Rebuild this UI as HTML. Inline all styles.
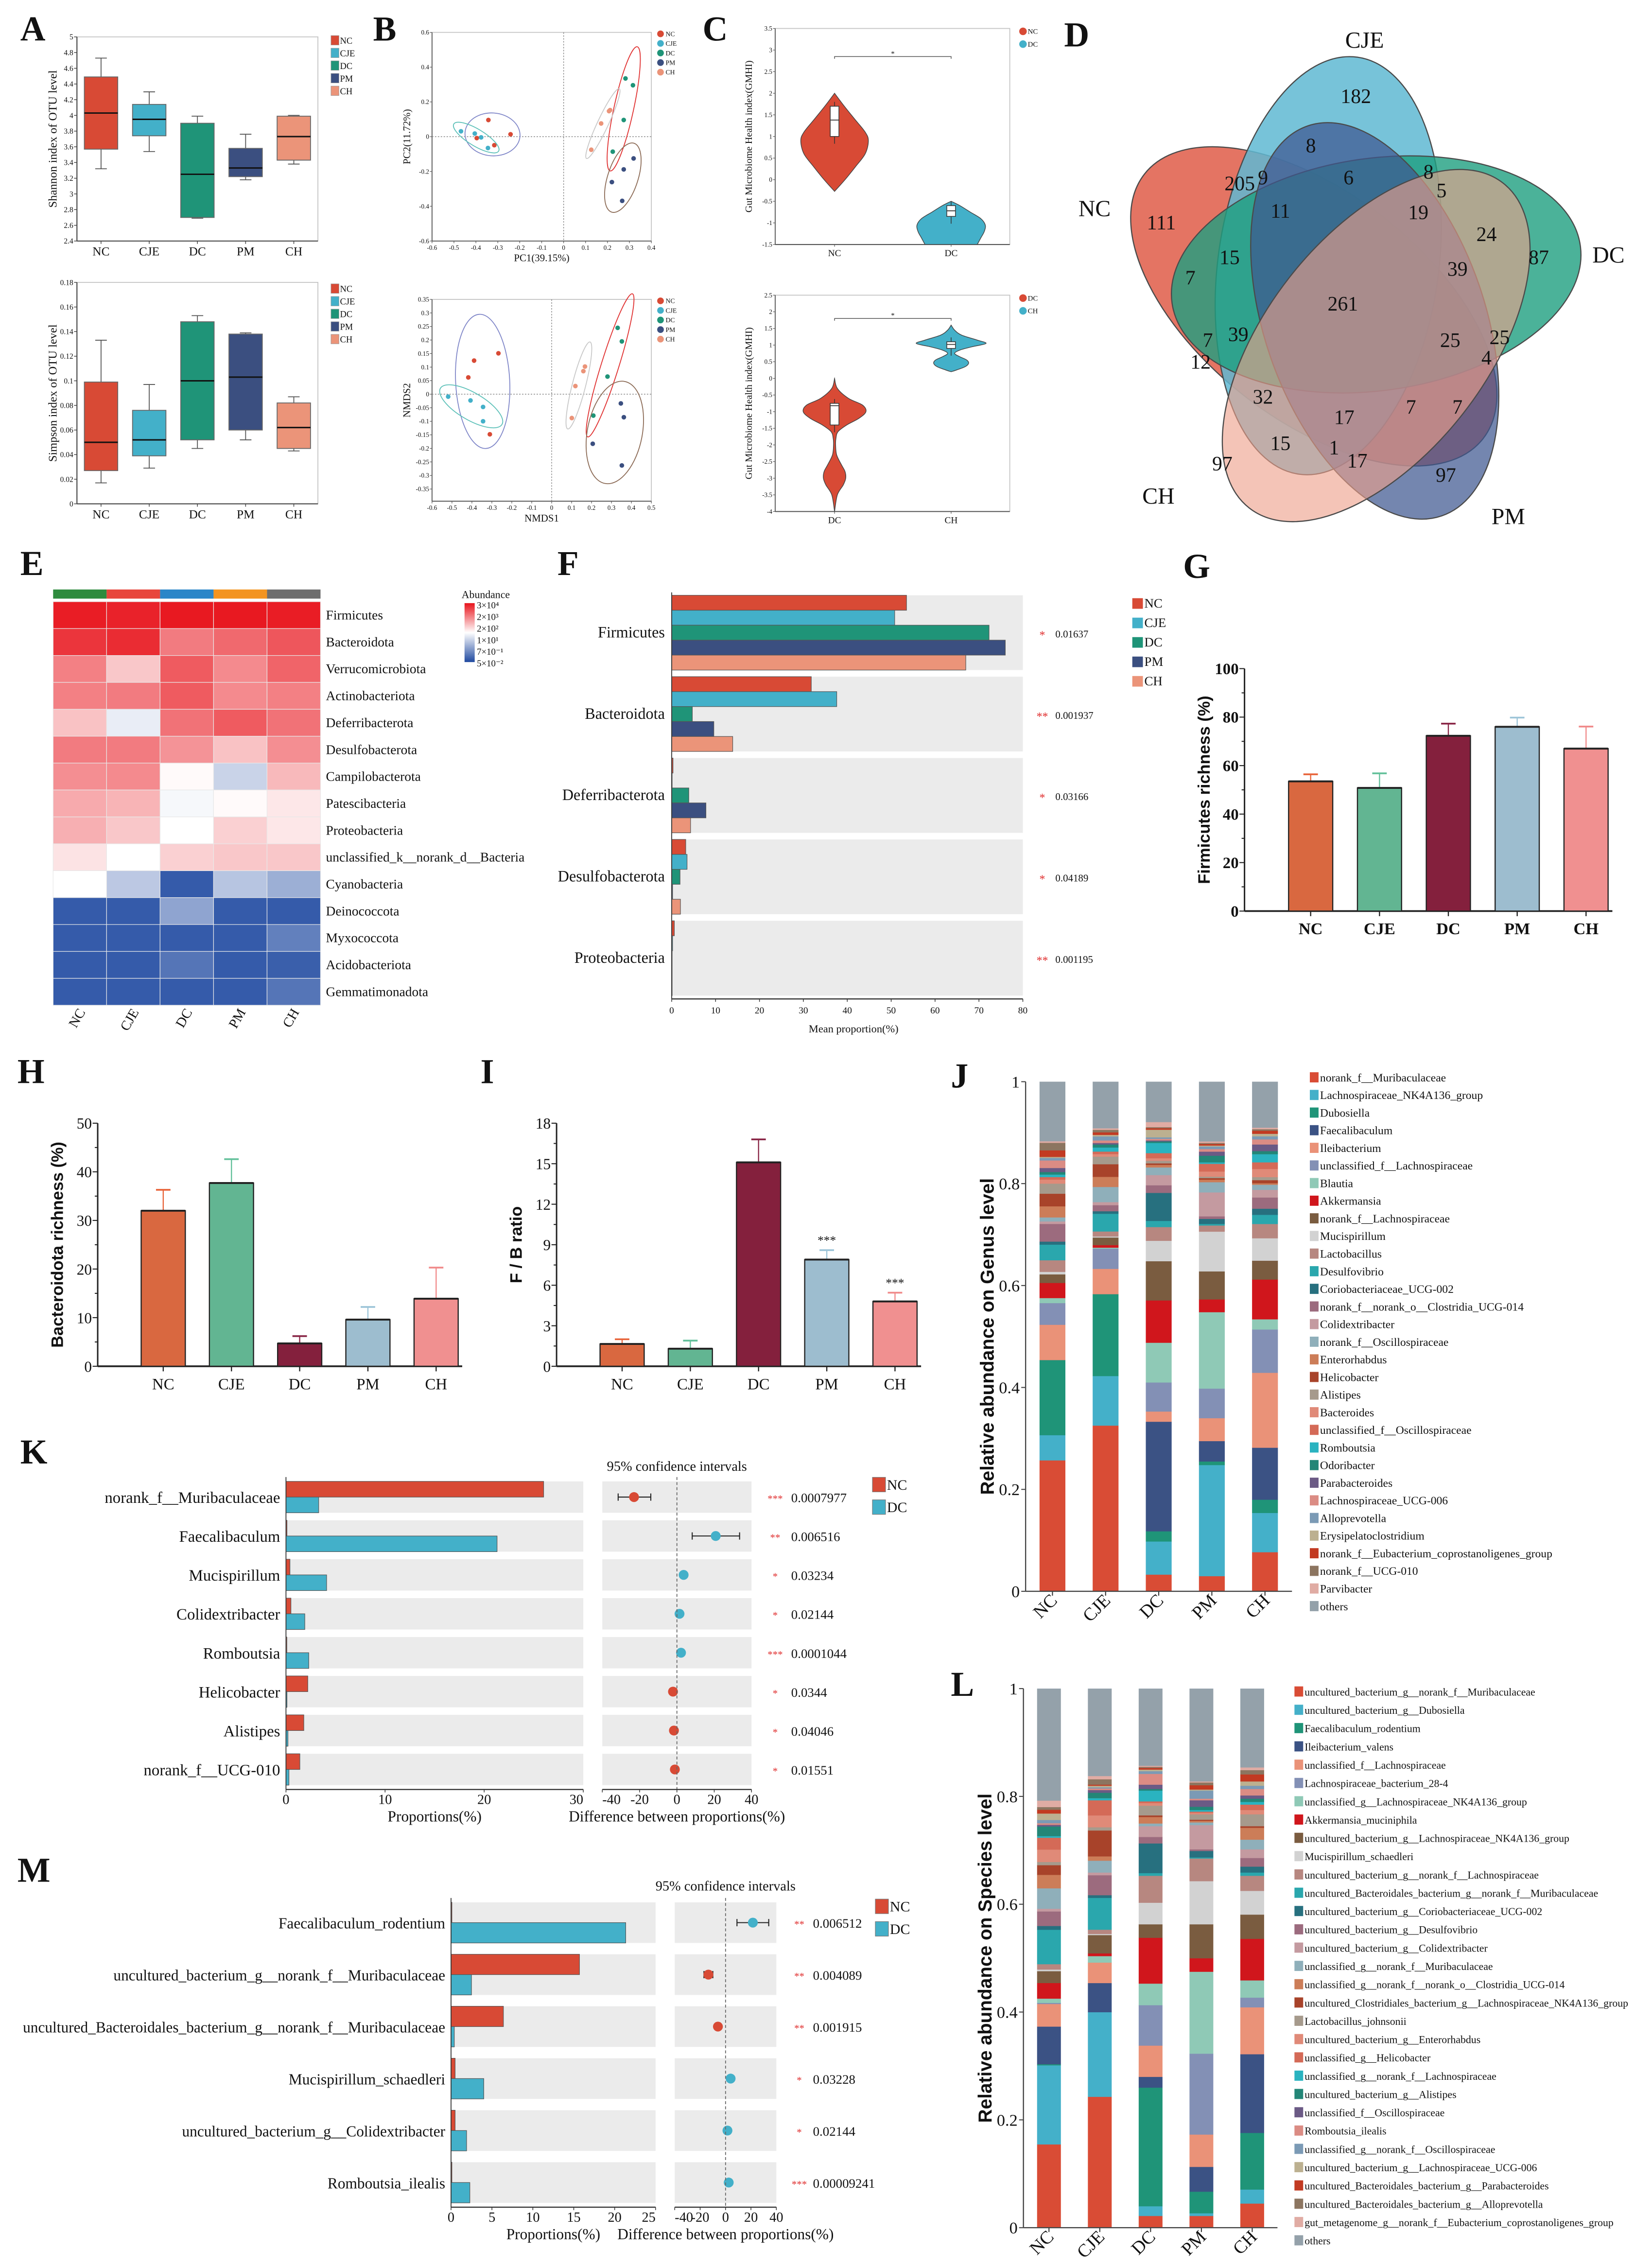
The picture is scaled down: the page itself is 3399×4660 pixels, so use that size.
<!DOCTYPE html>
<html><head><meta charset="utf-8">
<style>html,body{margin:0;padding:0;background:#fff}svg{display:block}</style>
</head><body>
<svg id="fig" xmlns="http://www.w3.org/2000/svg" width="3399" height="4660" viewBox="0 0 1138 1560" preserveAspectRatio="none" font-family='"Liberation Serif", serif'>
<defs><clipPath id="mclip"><rect x="0" y="1290" width="627" height="80"/></clipPath>
<linearGradient id="heatgrad" x1="0" y1="0" x2="0" y2="1"><stop offset="0" stop-color="#e8141c"/><stop offset="0.5" stop-color="#ffffff"/><stop offset="1" stop-color="#1f49a0"/></linearGradient></defs>
</svg>
<script>
// ---------- DATA ----------
const groups=['NC','CJE','DC','PM','CH'];
const groupColors=['#d84a35','#43b0c9','#1f9478','#3b4f80','#eb9479'];
// A
const shannonMin=[3.32,3.54,2.69,3.18,3.38];
const shannonQ1=[3.57,3.74,2.70,3.22,3.43];
const shannonMed=[4.03,3.95,3.25,3.33,3.73];
const shannonQ3=[4.49,4.14,3.90,3.58,3.99];
const shannonMax=[4.73,4.30,3.99,3.76,4.00];
const simpsonMin=[0.017,0.029,0.045,0.052,0.043];
const simpsonQ1=[0.027,0.039,0.052,0.060,0.045];
const simpsonMed=[0.050,0.052,0.100,0.103,0.062];
const simpsonQ3=[0.099,0.076,0.148,0.138,0.082];
const simpsonMax=[0.133,0.097,0.153,0.139,0.087];
// B
const pcaX=[[-0.343,-0.242,-0.396,-0.316],[-0.468,-0.405,-0.376,-0.345],[0.282,0.316,0.274,0.224],[0.319,0.274,0.220,0.267],[0.212,0.207,0.171,0.126]];
const pcaY=[[0.096,0.014,-0.008,-0.049],[0.031,0.018,-0.004,-0.065],[0.335,0.296,0.096,-0.086],[-0.125,-0.188,-0.261,-0.369],[0.153,0.147,0.076,-0.075]];
const nmdsX=[[-0.267,-0.389,-0.418,-0.310],[-0.519,-0.407,-0.344,-0.344],[0.331,0.352,0.280,0.209],[0.347,0.362,0.206,0.352],[0.167,0.159,0.119,0.101]];
const nmdsY=[[0.151,0.124,0.062,-0.148],[-0.009,-0.023,-0.047,-0.100],[0.245,0.195,0.065,-0.079],[-0.034,-0.085,-0.183,-0.263],[0.102,0.085,0.030,-0.088]];
// C violins
const vNCy=[2.0,1.7,1.4,1.1,0.9,0.6,0.3,0.0,-0.27];
const vNCd=[0,0.28,0.58,0.88,0.97,0.88,0.6,0.3,0];
const vDC1y=[-0.5,-0.6,-0.75,-0.9,-1.05,-1.2,-1.35,-1.5];
const vDC1d=[0,0.25,0.55,0.85,0.98,0.95,0.85,0.75];
const vDC2y=[0,-0.3,-0.6,-0.8,-1.0,-1.2,-1.4,-1.6,-1.8,-2.0,-2.3,-2.6,-2.8,-3.0,-3.2,-3.5,-4.0];
const vDC2d=[0,0.08,0.4,0.8,0.9,0.7,0.35,0.1,0.04,0.03,0.06,0.2,0.3,0.32,0.25,0.08,0];
const vCHy=[1.6,1.45,1.3,1.15,1.05,0.95,0.85,0.75,0.65,0.55,0.45,0.35,0.25,0.2];
const vCHd=[0,0.1,0.3,0.75,1.0,0.6,0.25,0.1,0.25,0.45,0.5,0.4,0.15,0];
const gmhiBoxTop=[[1.0,1.38,1.7],[-0.85,-0.72,-0.6]];
const gmhiBoxBot=[[-1.4,-0.82,-0.75],[0.9,1.02,1.1]];
// D
const vennSets=['NC','CJE','DC','PM','CH'];
const vennCounts=[182,8,205,9,6,8,5,111,11,19,24,87,15,7,39,261,7,39,25,25,12,4,32,7,7,17,15,1,17,97,97];
// E
const phyla=['Firmicutes','Bacteroidota','Verrucomicrobiota','Actinobacteriota','Deferribacterota','Desulfobacterota','Campilobacterota','Patescibacteria','Proteobacteria','unclassified_k__norank_d__Bacteria','Cyanobacteria','Deinococcota','Myxococcota','Acidobacteriota','Gemmatimonadota'];
const heatValues=[[0.98,0.97,0.99,0.99,0.98],[0.93,0.95,0.78,0.82,0.86],[0.77,0.62,0.85,0.75,0.83],[0.77,0.78,0.85,0.75,0.77],[0.63,0.45,0.80,0.85,0.80],[0.78,0.78,0.73,0.63,0.74],[0.74,0.75,0.51,0.38,0.65],[0.68,0.66,0.48,0.51,0.55],[0.67,0.62,0.50,0.60,0.55],[0.56,0.50,0.60,0.62,0.62],[0.50,0.35,0.05,0.34,0.28],[0.05,0.05,0.25,0.05,0.05],[0.05,0.05,0.05,0.05,0.15],[0.05,0.05,0.12,0.05,0.06],[0.05,0.05,0.05,0.05,0.12]];
const heatLegendLabels=['3×10⁴','2×10³','2×10²','1×10¹','7×10⁻¹','5×10⁻²'];
// F
const fPhyla=['Firmicutes','Bacteroidota','Deferribacterota','Desulfobacterota','Proteobacteria'];
const fNC=[53.5,31.8,0.3,3.2,0.6];
const fCJE=[50.8,37.6,0.1,3.5,0.2];
const fDC=[72.3,4.7,3.9,1.9,0.1];
const fPM=[76.0,9.6,7.8,0.2,0.1];
const fCH=[67.0,13.9,4.3,2.0,0.1];
const fP=['0.01637','0.001937','0.03166','0.04189','0.001195'];
const fStars=['*','**','*','*','**'];
// G H I
const barColors=['#d96840','#62b592','#84203d','#9dbdcf','#f09090'];
const errColors=['#e8643a','#62c09a','#8a2848','#9cc4d8','#f08a8a'];
const firmMean=[53.5,50.8,72.3,76.0,67.0];
const firmErr=[2.9,6.0,5.0,3.8,9.1];
const bactMean=[32.0,37.7,4.7,9.6,13.9];
const bactErr=[4.3,4.9,1.5,2.6,6.4];
const fbMean=[1.65,1.3,15.1,7.9,4.8];
const fbErr=[0.35,0.6,1.7,0.7,0.65];
const fbSig=['','','','***','***'];
// J
const genusNames=['norank_f__Muribaculaceae','Lachnospiraceae_NK4A136_group','Dubosiella','Faecalibaculum','Ileibacterium','unclassified_f__Lachnospiraceae','Blautia','Akkermansia','norank_f__Lachnospiraceae','Mucispirillum','Lactobacillus','Desulfovibrio','Coriobacteriaceae_UCG-002','norank_f__norank_o__Clostridia_UCG-014','Colidextribacter','norank_f__Oscillospiraceae','Enterorhabdus','Helicobacter','Alistipes','Bacteroides','unclassified_f__Oscillospiraceae','Romboutsia','Odoribacter','Parabacteroides','Lachnospiraceae_UCG-006','Alloprevotella','Erysipelatoclostridium','norank_f__Eubacterium_coprostanoligenes_group','norank_f__UCG-010','Parvibacter','others'];
const taxaColors=['#d94c35','#44b0c9','#1f9478','#3b5284','#ea9278','#8390b5','#8fc9b6','#d0161c','#7a5c40','#d2d2d2','#b78780','#2aa7ad','#27707f','#9c6b7e','#c49aa0','#8fafba','#cc7d58','#a8432a','#a69a8c','#e08a78','#d46a57','#2ab3c0','#238677','#6b5a85','#db8c84','#7b9ab5','#bcb090','#c23a22','#8c7560','#e0aca4','#94a1aa'];
const genusNC=[0.26,0.05,0.149,0.0,0.07,0.043,0.01,0.03,0.017,0.005,0.023,0.031,0.006,0.035,0.005,0.008,0.022,0.025,0.02,0.008,0.005,0.005,0.005,0.008,0.015,0.005,0.002,0.013,0.015,0.003,0.118];
const genusCJE=[0.328,0.098,0.162,0.0,0.05,0.04,0.002,0.005,0.015,0.002,0.01,0.035,0.005,0.012,0.006,0.03,0.02,0.025,0.015,0.005,0.005,0.008,0.006,0.003,0.005,0.008,0.003,0.005,0.005,0.003,0.092];
const genusDC=[0.033,0.065,0.02,0.215,0.02,0.057,0.078,0.083,0.077,0.04,0.027,0.012,0.055,0.015,0.02,0.015,0.005,0.003,0.005,0.005,0.01,0.02,0.003,0.002,0.003,0.003,0.015,0.003,0.002,0.01,0.079];
const genusPM=[0.03,0.218,0.007,0.04,0.045,0.058,0.15,0.025,0.055,0.078,0.012,0.003,0.01,0.005,0.047,0.02,0.005,0.003,0.003,0.01,0.015,0.003,0.013,0.008,0.005,0.005,0.002,0.003,0.002,0.003,0.117];
const genusCH=[0.077,0.077,0.026,0.102,0.147,0.085,0.02,0.078,0.037,0.044,0.028,0.018,0.012,0.022,0.015,0.01,0.003,0.006,0.006,0.016,0.013,0.016,0.006,0.013,0.01,0.006,0.005,0.006,0.003,0.003,0.09];
// K
const kTaxa=['norank_f__Muribaculaceae','Faecalibaculum','Mucispirillum','Colidextribacter','Romboutsia','Helicobacter','Alistipes','norank_f__UCG-010'];
const kNC=[26.0,0.1,0.4,0.5,0.05,2.2,1.8,1.4];
const kDC=[3.3,21.3,4.1,1.9,2.3,0.1,0.2,0.3];
const kDiff=[-23.0,20.8,3.6,1.4,2.2,-2.1,-1.6,-1.1];
const kLo=[-31.5,8.2,2.5,0.8,1.5,-3.0,-2.3,-1.8];
const kHi=[-14.0,33.6,5.0,2.0,2.9,-1.2,-0.9,-0.4];
const kP=['0.0007977','0.006516','0.03234','0.02144','0.0001044','0.0344','0.04046','0.01551'];
const kStars=['***','**','*','*','***','*','*','*'];
// L
const speciesNames=['uncultured_bacterium_g__norank_f__Muribaculaceae','uncultured_bacterium_g__Dubosiella','Faecalibaculum_rodentium','Ileibacterium_valens','unclassified_f__Lachnospiraceae','Lachnospiraceae_bacterium_28-4','unclassified_g__Lachnospiraceae_NK4A136_group','Akkermansia_muciniphila','uncultured_bacterium_g__Lachnospiraceae_NK4A136_group','Mucispirillum_schaedleri','uncultured_bacterium_g__norank_f__Lachnospiraceae','uncultured_Bacteroidales_bacterium_g__norank_f__Muribaculaceae','uncultured_bacterium_g__Coriobacteriaceae_UCG-002','uncultured_bacterium_g__Desulfovibrio','uncultured_bacterium_g__Colidextribacter','unclassified_g__norank_f__Muribaculaceae','unclassified_g__norank_f__norank_o__Clostridia_UCG-014','uncultured_Clostridiales_bacterium_g__Lachnospiraceae_NK4A136_group','Lactobacillus_johnsonii','uncultured_bacterium_g__Enterorhabdus','unclassified_g__Helicobacter','unclassified_g__norank_f__Lachnospiraceae','uncultured_bacterium_g__Alistipes','unclassified_f__Oscillospiraceae','Romboutsia_ilealis','unclassified_g__norank_f__Oscillospiraceae','uncultured_bacterium_g__Lachnospiraceae_UCG-006','uncultured_Bacteroidales_bacterium_g__Parabacteroides','uncultured_Bacteroidales_bacterium_g__Alloprevotella','gut_metagenome_g__norank_f__Eubacterium_coprostanoligenes_group','others'];
const speciesNC=[0.155,0.147,0.002,0.07,0.042,0.002,0.008,0.029,0.022,0.003,0.01,0.064,0.007,0.027,0.005,0.038,0.025,0.018,0.006,0.023,0.022,0.003,0.018,0.003,0.003,0.006,0.012,0.007,0.005,0.012,0.208];
const speciesCJE=[0.243,0.157,0.0,0.054,0.038,0.0,0.012,0.005,0.034,0.002,0.008,0.059,0.005,0.037,0.005,0.022,0.008,0.048,0.006,0.022,0.028,0.004,0.01,0.005,0.003,0.002,0.003,0.002,0.01,0.006,0.162];
const speciesDC=[0.022,0.018,0.22,0.02,0.058,0.075,0.04,0.085,0.025,0.04,0.05,0.005,0.055,0.012,0.02,0.005,0.012,0.003,0.018,0.005,0.003,0.02,0.003,0.008,0.02,0.005,0.003,0.003,0.002,0.002,0.143];
const speciesPM=[0.022,0.005,0.04,0.046,0.06,0.15,0.152,0.025,0.063,0.08,0.042,0.002,0.012,0.003,0.045,0.005,0.003,0.002,0.01,0.003,0.002,0.003,0.006,0.012,0.003,0.015,0.002,0.008,0.005,0.002,0.172];
const speciesCH=[0.045,0.026,0.105,0.146,0.087,0.018,0.032,0.077,0.045,0.044,0.028,0.006,0.011,0.016,0.016,0.018,0.022,0.003,0.022,0.008,0.01,0.005,0.006,0.006,0.012,0.006,0.008,0.013,0.008,0.005,0.146];
// M
const mTaxa=['Faecalibaculum_rodentium','uncultured_bacterium_g__norank_f__Muribaculaceae','uncultured_Bacteroidales_bacterium_g__norank_f__Muribaculaceae','Mucispirillum_schaedleri','uncultured_bacterium_g__Colidextribacter','Romboutsia_ilealis'];
const mNC=[0.1,15.7,6.4,0.5,0.5,0.05];
const mDC=[21.35,2.5,0.4,4.0,1.9,2.3];
const mDiff=[21.5,-13.5,-6.0,4.0,1.5,2.5];
const mLo=[9,-17,-8,2.5,0.5,1.5];
const mHi=[34,-10,-4,5.5,2.5,3.5];
const mP=['0.006512','0.004089','0.001915','0.03228','0.02144','0.00009241'];
const mStars=['**','**','**','*','*','***'];

// ---------- HELPERS ----------
const svg=document.getElementById('fig');
const NS='http://www.w3.org/2000/svg';
function mk(tag,a,p){const e=document.createElementNS(NS,tag);for(const k in a)e.setAttribute(k,a[k]);(p||svg).appendChild(e);return e;}
function tx(p,x,y,s,fs,anc,extra){const e=mk('text',Object.assign({x:x,y:y,'font-size':fs,'text-anchor':anc||'start',fill:'#111'},extra||{}),p);e.textContent=s;return e;}
function lin(d0,d1,r0,r1){return v=>r0+(v-d0)*(r1-r0)/(d1-d0);}
function fmt(v,d){return String(Number(v.toFixed(d)));}
function panel(name){const g=mk('g',{});


return g;}
function letter(g,x,y,s){const t=tx(g,x,y,s,24,'start',{'font-weight':'bold'});

}
function smooth(pts){let d='M'+pts[0][0]+','+pts[0][1];for(let i=0;i<pts.length-1;i++){const p0=pts[Math.max(0,i-1)],p1=pts[i],p2=pts[i+1],p3=pts[Math.min(pts.length-1,i+2)];
d+=' C'+(p1[0]+(p2[0]-p0[0])/6)+','+(p1[1]+(p2[1]-p0[1])/6)+' '+(p2[0]-(p3[0]-p1[0])/6)+','+(p2[1]-(p3[1]-p1[1])/6)+' '+p2[0]+','+p2[1];}return d;}

// ---------- A ----------
function boxPlot(g,mins,q1,med,q3,maxs,box,lo,hi,step,dec,ytitle,legY){
 const y=lin(lo,hi,box.y1,box.y0);
 mk('rect',{x:box.x0,y:box.y0,width:box.x1-box.x0,height:box.y1-box.y0,fill:'none',stroke:'#c4c4c4','stroke-width':0.6},g);
 mk('line',{x1:box.x0,y1:box.y0,x2:box.x0,y2:box.y1,stroke:'#444','stroke-width':0.7},g);
 mk('line',{x1:box.x0,y1:box.y1,x2:box.x1,y2:box.y1,stroke:'#444','stroke-width':0.7},g);
 const n=Math.round((hi-lo)/step);
 for(let i=0;i<=n;i++){const v=lo+i*step;const yy=y(v);
  mk('line',{x1:box.x0-2,y1:yy,x2:box.x0,y2:yy,stroke:'#444','stroke-width':0.5},g);
  tx(g,box.x0-2.5,yy+1.8,fmt(v,dec),5.2,'end');}
 const bw=(box.x1-box.x0)/5;
 for(let i=0;i<5;i++){const cx=box.x0+bw*(i+0.5);
  mk('line',{x1:cx,y1:y(maxs[i]),x2:cx,y2:y(mins[i]),stroke:'#555','stroke-width':0.6},g);
  mk('line',{x1:cx-4,y1:y(maxs[i]),x2:cx+4,y2:y(maxs[i]),stroke:'#555','stroke-width':0.6},g);
  mk('line',{x1:cx-4,y1:y(mins[i]),x2:cx+4,y2:y(mins[i]),stroke:'#555','stroke-width':0.6},g);
  const r=mk('rect',{x:cx-11.5,y:y(q3[i]),width:23,height:y(q1[i])-y(q3[i]),fill:groupColors[i],stroke:'#666','stroke-width':0.6},g);
  
  
  mk('line',{x1:cx-11.5,y1:y(med[i]),x2:cx+11.5,y2:y(med[i]),stroke:'#111','stroke-width':1},g);
  mk('line',{x1:cx,y1:box.y1,x2:cx,y2:box.y1+2,stroke:'#444','stroke-width':0.5},g);
  tx(g,cx,box.y1+10,groups[i],8.5,'middle');
 }
 const yt=tx(g,0,0,ytitle,8.2,'middle',{transform:'translate('+(box.x0-14)+','+((box.y0+box.y1)/2)+') rotate(-90)'});
 
 
 for(let i=0;i<5;i++){
  const s=mk('rect',{x:228,y:legY+i*8.7,width:5.5,height:6.5,fill:groupColors[i],stroke:'#999','stroke-width':0.3},g);
  
  
  tx(g,234.2,legY+i*8.7+5.6,groups[i],6.2);}
}
const gA=panel('panel-a-alpha-diversity');
letter(gA,14,28,'A');
boxPlot(gA,shannonMin,shannonQ1,shannonMed,shannonQ3,shannonMax,{x0:53,x1:219,y0:25.4,y1:166},2.4,5,0.2,1,'Shannon index of OTU level',24.5);
boxPlot(gA,simpsonMin,simpsonQ1,simpsonMed,simpsonQ3,simpsonMax,{x0:53,x1:219,y0:194.5,y1:347},0,0.18,0.02,2,'Simpson index of OTU level',195.5);

// ---------- B ----------
const ellColors=['#7f86c8','#5cc0b8','#e03030','#8b6a55','#c8c8c8'];
function scatter(g,X,Y,box,xd,yd,xstep,ystep,xt,ytl,legY){
 const sx=lin(xd[0],xd[1],box.x0,box.x1), sy=lin(yd[0],yd[1],box.y1,box.y0);
 mk('rect',{x:box.x0,y:box.y0,width:box.x1-box.x0,height:box.y1-box.y0,fill:'none',stroke:'#c4c4c4','stroke-width':0.6},g);
 mk('line',{x1:box.x0,y1:box.y0,x2:box.x0,y2:box.y1,stroke:'#555','stroke-width':0.6},g);
 mk('line',{x1:box.x0,y1:box.y1,x2:box.x1,y2:box.y1,stroke:'#555','stroke-width':0.6},g);
 mk('line',{x1:sx(0),y1:box.y0,x2:sx(0),y2:box.y1,stroke:'#888','stroke-width':0.5,'stroke-dasharray':'1,1'},g);
 mk('line',{x1:box.x0,y1:sy(0),x2:box.x1,y2:sy(0),stroke:'#888','stroke-width':0.5,'stroke-dasharray':'1,1'},g);
 const nx=Math.round((xd[1]-xd[0])/xstep);
 for(let i=0;i<=nx;i++){const v=xd[0]+i*xstep;mk('line',{x1:sx(v),y1:box.y1,x2:sx(v),y2:box.y1+1.5,stroke:'#555','stroke-width':0.4},g);tx(g,sx(v),box.y1+6,fmt(v,2),4.4,'middle');}
 const ystart=Math.ceil(yd[0]/ystep-1e-6)*ystep;
 for(let v=ystart;v<=yd[1]+1e-9;v+=ystep){mk('line',{x1:box.x0-1.5,y1:sy(v),x2:box.x0,y2:sy(v),stroke:'#555','stroke-width':0.4},g);tx(g,box.x0-2,sy(v)+1.5,fmt(v,2),4.4,'end');}
 for(let k=0;k<5;k++){
  const px=X[k].map(sx), py=Y[k].map(sy); const n=px.length;
  const mx=px.reduce((a,b)=>a+b)/n, my=py.reduce((a,b)=>a+b)/n;
  let a=0,b=0,c=0;for(let i=0;i<n;i++){a+=(px[i]-mx)**2;b+=(px[i]-mx)*(py[i]-my);c+=(py[i]-my)**2;}
  a/=n-1;b/=n-1;c/=n-1;
  const tr=(a+c)/2, det=Math.sqrt(((a-c)/2)**2+b*b);
  const l1=tr+det,l2=Math.max(tr-det,1);
  const ang=Math.atan2(l1-a,b||1e-9)*180/Math.PI;
  const e=mk('ellipse',{cx:mx,cy:my,rx:1.75*Math.sqrt(l1)+2,ry:1.75*Math.sqrt(l2)+2,fill:'none',stroke:ellColors[k],'stroke-width':0.6,transform:'rotate('+ang+','+mx+','+my+')'},g);
  
  
  for(let i=0;i<n;i++){
   const p=mk('circle',{cx:px[i],cy:py[i],r:1.6,fill:groupColors[k]},g);
   
   }
 }
 tx(g,(box.x0+box.x1)/2,box.y1+14,xt,7,'middle');
 tx(g,0,0,ytl,7,'middle',{transform:'translate('+(box.x0-15)+','+((box.y0+box.y1)/2)+') rotate(-90)'});
 for(let i=0;i<5;i++){
  const s=mk('circle',{cx:455,cy:legY+i*6.6,r:2.3,fill:groupColors[i]},g);
  
  
  tx(g,458.5,legY+i*6.6+1.6,groups[i],4.6);}
}
const gB=panel('panel-b-beta-diversity');
letter(gB,257,28,'B');
scatter(gB,pcaX,pcaY,{x0:297.6,x1:448.7,y0:22.3,y1:166},[-0.6,0.4],[-0.6,0.6],0.1,0.2,'PC1(39.15%)','PC2(11.72%)',23.3);
scatter(gB,nmdsX,nmdsY,{x0:297.6,x1:448.7,y0:206.2,y1:345.2},[-0.6,0.5],[-0.395,0.35],0.1,0.05,'NMDS1','NMDS2',207.2);

// ---------- C ----------
function violinPanel(g,box,yd,ystep,vio,boxes,labels,cols,sigY,legY){
 const sy=lin(yd[0],yd[1],box.y1,box.y0);
 mk('rect',{x:box.x0,y:box.y0,width:box.x1-box.x0,height:box.y1-box.y0,fill:'none',stroke:'#c4c4c4','stroke-width':0.6},g);
 mk('line',{x1:box.x0,y1:box.y0,x2:box.x0,y2:box.y1,stroke:'#555','stroke-width':0.6},g);
 mk('line',{x1:box.x0,y1:box.y1,x2:box.x1,y2:box.y1,stroke:'#555','stroke-width':0.7},g);
 for(let v=yd[0];v<=yd[1]+1e-9;v+=ystep){mk('line',{x1:box.x0-1.5,y1:sy(v),x2:box.x0,y2:sy(v),stroke:'#555','stroke-width':0.4},g);tx(g,box.x0-2,sy(v)+1.5,fmt(v,1),4.4,'end');}
 const cxs=[574.9,655.2];
 for(let k=0;k<2;k++){const cx=cxs[k];const Y=vio[k][0],D=vio[k][1];
  const left=Y.map((v,i)=>[cx-D[i]*24,sy(v)]);const right=Y.map((v,i)=>[cx+D[i]*24,sy(v)]).reverse();
  const p=mk('path',{d:smooth(left)+' L'+smooth(right).slice(1)+' Z',fill:cols[k],stroke:'#444','stroke-width':0.5},g);
  
  
  const b=boxes[k];
  mk('line',{x1:cx,y1:sy(b[0])+5,x2:cx,y2:sy(b[2])-3,stroke:'#333','stroke-width':0.5},g);
  mk('rect',{x:cx-3,y:sy(b[2]),width:6,height:sy(b[0])-sy(b[2]),fill:'#fff',stroke:'#333','stroke-width':0.5},g);
  mk('line',{x1:cx-3,y1:sy(b[1]),x2:cx+3,y2:sy(b[1]),stroke:'#333','stroke-width':0.6},g);
  mk('line',{x1:cx,y1:box.y1,x2:cx,y2:box.y1+1.5,stroke:'#555','stroke-width':0.4},g);
  tx(g,cx,box.y1+8,labels[k],6.5,'middle');
  const s=mk('circle',{cx:704.7,cy:legY+k*8.8,r:2.6,fill:cols[k]},g);
  
  
  tx(g,708,legY+k*8.8+1.7,labels[k],5);
 }
 const by=sy(sigY);
 mk('path',{d:'M'+cxs[0]+','+(by+1.5)+' V'+by+' H'+cxs[1]+' V'+(by+1.5),fill:'none',stroke:'#555','stroke-width':0.5},g);
 tx(g,(cxs[0]+cxs[1])/2,by-0.5,'*',5,'middle');
 tx(g,0,0,'Gut Microbiome Health index(GMHI)',6.8,'middle',{transform:'translate('+(box.x0-16)+','+((box.y0+box.y1)/2)+') rotate(-90)'});
}
const gC=panel('panel-c-gmhi');
letter(gC,484,28,'C');
violinPanel(gC,{x0:534,x1:695.6,y0:19.6,y1:168.4},[-1.5,3.5],0.5,[[vNCy,vNCd],[vDC1y,vDC1d]],gmhiBoxTop,['NC','DC'],['#d84a35','#43b0c9'],2.85,21.6);
violinPanel(gC,{x0:534,x1:695.6,y0:203.3,y1:352.3},[-4,2.5],0.5,[[vDC2y,vDC2d],[vCHy,vCHd]],gmhiBoxBot,['DC','CH'],['#d84a35','#43b0c9'],1.8,205.3);

// ---------- D ----------
const gD=panel('panel-d-venn');
letter(gD,733,32,'D');
const vennShapes=[[905,211,148,78,38,'#e0614d'],[915,183,145,76,-82,'#5fb8d2'],[948,189,142,80,-8,'#1e9f80'],[947,221,142,76,71,'#3f5790'],[948,238,142,76,-52,'#eea08a']];
const vennFillOp=[0.88,0.85,0.8,0.72,0.62];
vennShapes.forEach((s,i)=>{
 const e=mk('ellipse',{cx:s[0],cy:s[1],rx:s[2],ry:s[3],fill:s[5],'fill-opacity':vennFillOp[i],stroke:'#4a4a4a','stroke-width':0.8,transform:'rotate('+s[4]+','+s[0]+','+s[1]+')'},gD);
 
 
});
const vennPos=[[934,66],[903,100],[854,126],[870,122],[929,122],[984,118],[993,131],[800,153],[882,145],[977,146],[1024,161],[1060,177],[847,177],[820,191],[1004,185],[925,209],[832,234],[853,230],[999,234],[1033,232],[827,249],[1024,246],[870,273],[972,280],[1004,280],[926,287],[882,305],[919,308],[935,317],[842,319],[996,327]];
vennCounts.forEach((c,i)=>{const t=tx(gD,vennPos[i][0],vennPos[i][1]+5,String(c),14,'middle');
 
 });
const vennLabelPos=[[754,149],[940,33],[1108,181],[1039,361],[798,347]];
vennSets.forEach((s,i)=>{const t=tx(gD,vennLabelPos[i][0],vennLabelPos[i][1],s,16,'middle');
 
 });

// ---------- E ----------
const gE=panel('panel-e-heatmap');
letter(gE,14,396,'E');
function heat(t){let r,g,b;if(t>=0.5){const f=(t-0.5)/0.5;r=255+(232-255)*f;g=255+(20-255)*f;b=255+(28-255)*f;}else{const f=(0.5-t)/0.5;r=255+(31-255)*f;g=255+(73-255)*f;b=255+(160-255)*f;}return 'rgb('+Math.round(r)+','+Math.round(g)+','+Math.round(b)+')';}
const stripColors=['#2e8b3e','#e8463c','#2a86c8','#f39420','#6e6e6e'];
const hx0=36.6,hcw=36.84,hy0=414.4,hrh=18.53;
groups.forEach((gname,j)=>{const s=mk('rect',{x:hx0+j*hcw,y:406,width:hcw,height:6.3,fill:stripColors[j]},gE);
 
 
 tx(gE,0,0,gname,9.5,'end',{transform:'translate('+(hx0+j*hcw+hcw/2+4)+',697) rotate(-60)'});});
phyla.forEach((p,i)=>{
 heatValues[i].forEach((v,j)=>{const c=mk('rect',{x:hx0+j*hcw,y:hy0+i*hrh,width:hcw,height:hrh,fill:heat(v),stroke:'#e8e8e8','stroke-width':0.4},gE);
  
  });
 tx(gE,224.5,hy0+i*hrh+hrh/2+3,p,9.2);
});
tx(gE,318,412,'Abundance',7.3);
mk('rect',{x:320,y:415.4,width:7,height:40.6,fill:'url(#heatgrad)'},gE);
heatLegendLabels.forEach((l,i)=>tx(gE,328.5,417+i*8+2,l,6.3));

// ---------- F ----------
const gF=panel('panel-f-phylum-differences');
letter(gF,384,396,'F');
const fx=lin(0,80,462.7,704.6);
const fSeries=[fNC,fCJE,fDC,fPM,fCH];
fPhyla.forEach((p,i)=>{const top=410+i*56.05;
 mk('rect',{x:462.7,y:top,width:704.6-462.7,height:51.5,fill:'#ebebeb'},gF);
 fSeries.forEach((ser,k)=>{const r=mk('rect',{x:462.7,y:top+k*10.3,width:fx(ser[i])-462.7,height:10.3,fill:groupColors[k],stroke:'#555','stroke-width':0.4},gF);
  
  });
 tx(gF,458,top+29,p,10.8,'end');
 tx(gF,718,top+30,fStars[i],8,'middle',{fill:'#e03030'});
 tx(gF,727,top+29,fP[i],7);
});
mk('line',{x1:462.7,y1:408,x2:462.7,y2:688,stroke:'#333','stroke-width':0.6},gF);
mk('line',{x1:462.7,y1:688,x2:704.6,y2:688,stroke:'#333','stroke-width':0.8},gF);
for(let v=0;v<=80;v+=10){mk('line',{x1:fx(v),y1:688,x2:fx(v),y2:690,stroke:'#333','stroke-width':0.5},gF);tx(gF,fx(v),698,String(v),6.5,'middle');}
tx(gF,588,711,'Mean proportion(%)',7.5,'middle');
groups.forEach((gname,i)=>{const s=mk('rect',{x:780,y:412+i*13.4,width:7.3,height:7.3,fill:groupColors[i]},gF);
 
 
 tx(gF,788.3,418.5+i*13.4,gname,9);});

// ---------- G H I ----------
function barPanel(g,box,ymax,major,minor,means,errs,ytitle,bold,sig){
 const sy=lin(0,ymax,box.y1,box.y0);
 const bw=(box.x1-box.x0)/5.45;
 mk('line',{x1:box.x0,y1:box.y0,x2:box.x0,y2:box.y1,stroke:'#222','stroke-width':1},g);
 mk('line',{x1:box.x0,y1:box.y1,x2:box.x1,y2:box.y1,stroke:'#222','stroke-width':1.2},g);
 for(let v=0;v<=ymax+1e-9;v+=minor){const isM=Math.abs(v/major-Math.round(v/major))<1e-6;
  mk('line',{x1:box.x0-(isM?3.5:2),y1:sy(v),x2:box.x0,y2:sy(v),stroke:'#222','stroke-width':0.7},g);
  if(isM)tx(g,box.x0-4,sy(v)+3.8,fmt(v,1),bold?11:10.5,'end',{'font-weight':bold?'bold':'normal'});}
 for(let i=0;i<5;i++){const cx=box.x0+bw*(0.98+i*1.02);
  mk('line',{x1:cx,y1:sy(means[i]),x2:cx,y2:sy(means[i]+errs[i]),stroke:errColors[i],'stroke-width':0.8},g);
  mk('line',{x1:cx-5,y1:sy(means[i]+errs[i]),x2:cx+5,y2:sy(means[i]+errs[i]),stroke:errColors[i],'stroke-width':1.2},g);
  const r=mk('rect',{x:cx-15.2,y:sy(means[i]),width:30.4,height:sy(0)-sy(means[i]),fill:barColors[i],stroke:'#222','stroke-width':0.8},g);
  
  
  mk('line',{x1:cx-15.2,y1:sy(means[i]),x2:cx+15.2,y2:sy(means[i]),stroke:'#222','stroke-width':1.3},g);
  mk('line',{x1:cx,y1:box.y1,x2:cx,y2:box.y1+3.5,stroke:'#222','stroke-width':0.8},g);
  tx(g,cx,box.y1+16,groups[i],bold?11.5:11,'middle',{'font-weight':bold?'bold':'normal'});
  if(sig&&sig[i])tx(g,cx,sy(means[i]+errs[i])-4,sig[i],8.5,'middle');
 }
 tx(g,0,0,ytitle,11.5,'middle',{'font-weight':'bold','font-family':'"Liberation Sans", sans-serif',transform:'translate('+(box.x0-24)+','+((box.y0+box.y1)/2)+') rotate(-90)'});
}
const gG=panel('panel-g-firmicutes');
letter(gG,815,398,'G');
barPanel(gG,{x0:857.3,x1:1110.7,y0:460.5,y1:627.5},100,20,10,firmMean,firmErr,'Firmicutes richness (%)',true,null);
const gH=panel('panel-h-bacteroidota');
letter(gH,12,746,'H');
barPanel(gH,{x0:67.3,x1:318.4,y0:773.6,y1:941},50,10,5,bactMean,bactErr,'Bacteroidota richness (%)',false,null);
const gI=panel('panel-i-fb-ratio');
letter(gI,331,746,'I');
barPanel(gI,{x0:383.4,x1:634.5,y0:773.6,y1:941},18,3,1.5,fbMean,fbErr,'F / B ratio',false,fbSig);

// ---------- J / L ----------
function stackPanel(g,box,names,series,ytitle,legX,legY,legStep,legFs){
 const sy=lin(0,1,box.y1,box.y0);
 const cxs=[0,1,2,3,4].map(i=>box.xs+i*box.step);
 series.forEach((vals,k)=>{let acc=0;const tot=vals.reduce((a,b)=>a+b,0);
  vals.forEach((raw,i)=>{const v=raw/tot;const r=mk('rect',{x:cxs[k]-box.bw/2,y:sy(acc+v),width:box.bw,height:sy(acc)-sy(acc+v)+0.15,fill:taxaColors[i]},g);
   
   
   acc+=v;});
  mk('line',{x1:cxs[k],y1:box.y1,x2:cxs[k],y2:box.y1+3,stroke:'#333','stroke-width':0.7},g);
  tx(g,0,0,groups[k],12.5,'end',{transform:'translate('+(cxs[k]+4)+','+(box.y1+7)+') rotate(-45)'});
 });
 mk('line',{x1:box.x0,y1:box.y0,x2:box.x0,y2:box.y1,stroke:'#444','stroke-width':0.8},g);
 mk('line',{x1:box.x0,y1:box.y1,x2:box.x1,y2:box.y1,stroke:'#444','stroke-width':0.8},g);
 for(let v=0;v<=1.0001;v+=0.2){mk('line',{x1:box.x0-3,y1:sy(v),x2:box.x0,y2:sy(v),stroke:'#444','stroke-width':0.7},g);tx(g,box.x0-4,sy(v)+4,fmt(v,1),11.5,'end');}
 tx(g,0,0,ytitle,13,'middle',{'font-weight':'bold','font-family':'"Liberation Sans", sans-serif',transform:'translate('+(box.x0-22)+','+((box.y0+box.y1)/2)+') rotate(-90)'});
 names.forEach((n,i)=>{const s=mk('rect',{x:legX,y:legY+i*legStep-4,width:6,height:7,fill:taxaColors[i]},g);
  
  
  tx(g,legX+7,legY+i*legStep+2.3,n,legFs);});
}
const gJ=panel('panel-j-genus-composition');
letter(gJ,655,749,'J');
stackPanel(gJ,{x0:706.5,x1:890,y0:745,y1:1096,xs:725,step:36.6,bw:17.8},genusNames,[genusNC,genusCJE,genusDC,genusPM,genusCH],'Relative abundance on Genus level',902.3,742.5,12.14,7.9);
const gL=panel('panel-l-species-composition');
letter(gL,655,1168,'L');
stackPanel(gL,{x0:705,x1:880,y0:1163,y1:1534.3,xs:722.6,step:35,bw:16.4},speciesNames,[speciesNC,speciesCJE,speciesDC,speciesPM,speciesCH],'Relative abundance on Species level',891.7,1165.5,12.6,7.3);

// ---------- K / M ----------
function extPanel(g,o){
 const lx=lin(0,o.lmax,o.lx0,o.lx1), rx=lin(-40,40,o.rx0,o.rx1);
 o.taxa.forEach((t,i)=>{const top=o.y0+i*o.step;
  mk('rect',{x:o.lx0,y:top,width:o.lx1-o.lx0,height:o.bh*2,fill:'#ebebeb'},g);
  mk('rect',{x:o.rx0,y:top,width:o.rx1-o.rx0,height:o.bh*2,fill:'#ebebeb'},g);
  const a=mk('rect',{x:o.lx0,y:top,width:Math.max(lx(o.nc[i])-o.lx0,0.6),height:o.bh,fill:'#d84a35',stroke:'#555','stroke-width':0.4},g);
  
  
  const b=mk('rect',{x:o.lx0,y:top+o.bh,width:Math.max(lx(o.dc[i])-o.lx0,0.6),height:o.bh,fill:'#43b0c9',stroke:'#555','stroke-width':0.4},g);
  
  
  tx(g,o.lx0-4,top+o.bh+4,t,o.fs,'end');
  const cy=top+o.bh;const col=o.diff[i]<0?'#d84a35':'#43b0c9';
  mk('line',{x1:rx(o.lo[i]),y1:cy,x2:rx(o.hi[i]),y2:cy,stroke:'#222','stroke-width':0.7},g);
  mk('line',{x1:rx(o.lo[i]),y1:cy-2.5,x2:rx(o.lo[i]),y2:cy+2.5,stroke:'#222','stroke-width':0.7},g);
  mk('line',{x1:rx(o.hi[i]),y1:cy-2.5,x2:rx(o.hi[i]),y2:cy+2.5,stroke:'#222','stroke-width':0.7},g);
  const p=mk('circle',{cx:rx(o.diff[i]),cy:cy,r:3.4,fill:col},g);
  
  
  tx(g,o.starX,cy+3.5,o.stars[i],7,'middle',{fill:'#e03030'});
  tx(g,o.pX,cy+3.5,o.p[i],9);
 });
 const yb=o.y0+(o.taxa.length-1)*o.step+o.bh*2+3;
 mk('line',{x1:o.lx0,y1:o.y0-3,x2:o.lx0,y2:yb,stroke:'#333','stroke-width':0.6},g);
 mk('line',{x1:rx(0),y1:o.y0-3,x2:rx(0),y2:yb,stroke:'#666','stroke-width':0.6,'stroke-dasharray':'2,1.5'},g);
 mk('line',{x1:o.lx0,y1:yb,x2:o.lx1,y2:yb,stroke:'#333','stroke-width':0.8},g);
 mk('line',{x1:o.rx0,y1:yb,x2:o.rx1,y2:yb,stroke:'#333','stroke-width':0.8},g);
 for(let v=0;v<=o.lmax;v+=o.lstep){mk('line',{x1:lx(v),y1:yb,x2:lx(v),y2:yb+2,stroke:'#333','stroke-width':0.5},g);tx(g,lx(v),yb+10,String(v),o.tfs,v===o.lmax?'end':'middle');}
 for(let v=-40;v<=40;v+=20){mk('line',{x1:rx(v),y1:yb,x2:rx(v),y2:yb+2,stroke:'#333','stroke-width':0.5},g);tx(g,rx(v),yb+10,String(v),o.tfs,v===-40?'start':'middle');}
 tx(g,(o.lx0+o.lx1)/2,yb+22,'Proportions(%)',10.5,'middle');
 tx(g,(o.rx0+o.rx1)/2,yb+22,'Difference between proportions(%)',10.5,'middle');
 tx(g,(o.rx0+o.rx1)/2,o.titleY,'95% confidence intervals',9.5,'middle');
 const lg=mk('g',o.clip?{'clip-path':'url(#mclip)'}:{},g);
 mk('rect',{x:o.legX,y:o.legY,width:9,height:10,fill:'#d84a35',stroke:'#777','stroke-width':0.4},lg);
 mk('rect',{x:o.legX,y:o.legY+15.5,width:9,height:10,fill:'#43b0c9',stroke:'#777','stroke-width':0.4},lg);
 tx(lg,o.legX+10,o.legY+8.5,'NC',10);
 tx(lg,o.legX+10,o.legY+24,'DC',10);
}
const gK=panel('panel-k-genus-extended-error-bar');
letter(gK,14,1008,'K');
extPanel(gK,{taxa:kTaxa,nc:kNC,dc:kDC,diff:kDiff,lo:kLo,hi:kHi,p:kP,stars:kStars,lx0:197,lx1:401.8,lmax:30,lstep:10,rx0:414.9,rx1:517.7,y0:1020.3,step:26.8,bh:10.8,fs:11,tfs:9.5,starX:534,pX:545,titleY:1013,legX:601,legY:1017.5});
const gM=panel('panel-m-species-extended-error-bar');
letter(gM,12,1296,'M');
extPanel(gM,{taxa:mTaxa,nc:mNC,dc:mDC,diff:mDiff,lo:mLo,hi:mHi,p:mP,stars:mStars,lx0:310.7,lx1:451.6,lmax:25,lstep:5,rx0:464.8,rx1:534.8,y0:1310.2,step:35.8,bh:14,fs:10.5,tfs:9.5,starX:550.6,pX:560,titleY:1302,legX:603,legY:1308,clip:true});
</script>
</body></html>
